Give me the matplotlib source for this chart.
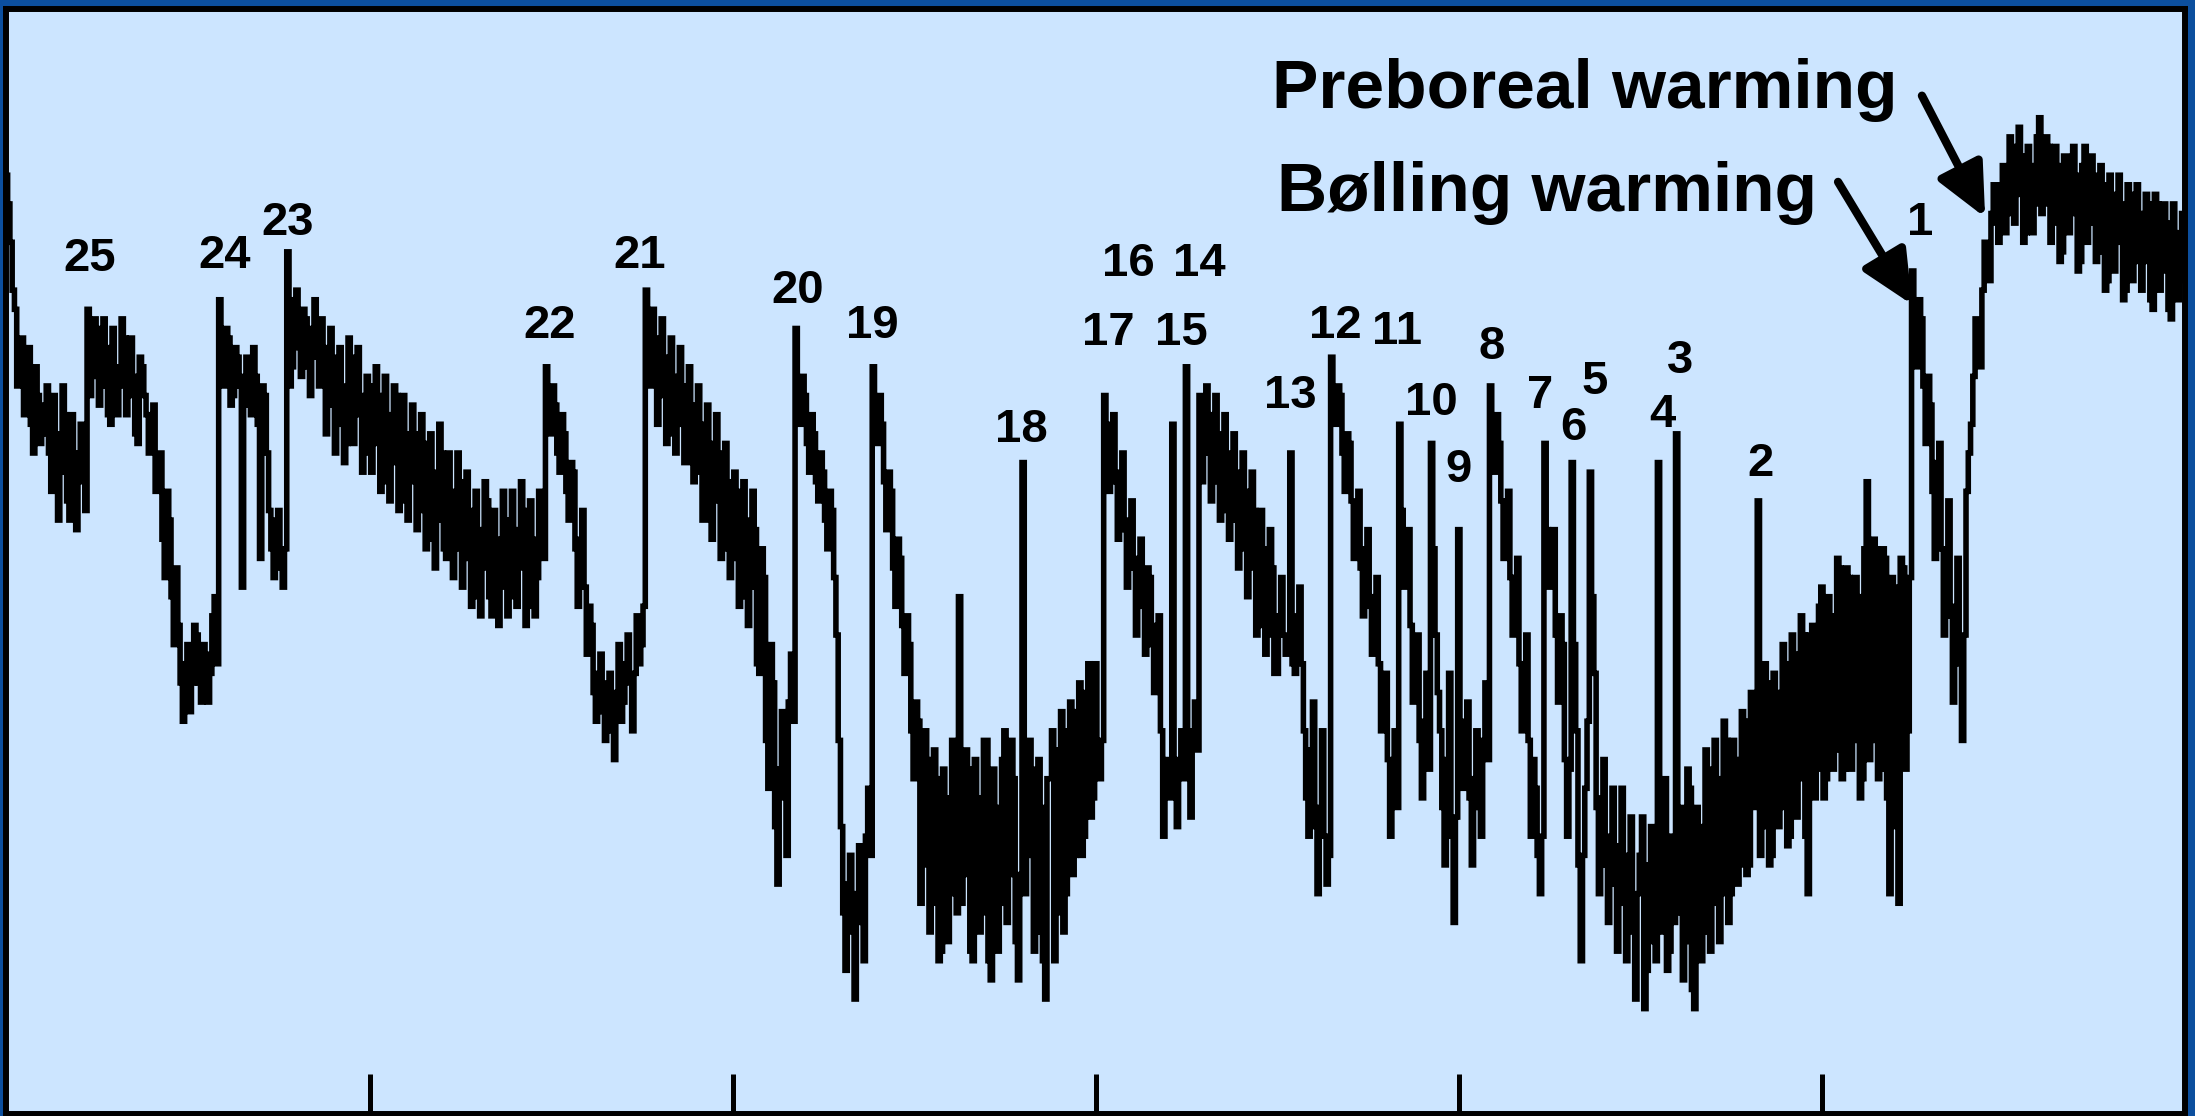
import numpy as np
import matplotlib.pyplot as plt

plt.rcParams['path.simplify'] = False

# Greenland ice-core oxygen isotope record (d18O, permil), one value every 125 years
STEP_KA = 0.125

# 120.0 - 90.125 ka
d18o_120_90 = [
    -34.7, -35.0, -35.4, -35.9, -36.1, -36.9, -36.6, -36.4, -37.2, -36.8, -36.5, -37.3, -37.6, -36.7, -37.0, -37.5, -37.4, -37.1, -36.9, -37.6,
    -38.0, -37.0, -37.4, -38.3, -37.8, -36.9, -37.2, -38.1, -38.3, -37.2, -37.6, -38.4, -37.9, -37.3, -37.5, -38.2, -36.1, -37.0, -36.8, -36.2,
    -36.3, -37.1, -36.9, -36.2, -36.5, -37.2, -37.3, -36.3, -36.7, -37.2, -36.9, -36.2, -36.4, -37.2, -37.0, -36.4, -36.8, -37.4, -37.5, -36.6,
    -36.7, -37.0, -37.2, -37.6, -37.4, -37.1, -38.0, -37.8, -37.6, -38.5, -38.9, -38.0, -38.3, -39.1, -39.6, -38.8, -39.4, -40.0, -40.4, -39.8,
    -39.6, -40.3, -40.0, -39.4, -39.5, -40.0, -40.2, -39.6, -39.7, -40.2, -39.9, -39.3, -39.1, -39.8, -36.0, -36.7, -36.9, -36.3, -36.4, -37.1,
    -37.0, -36.5, -36.6, -36.9, -39.0, -36.8, -36.6, -37.1, -37.2, -36.5, -36.8, -37.3, -38.7, -36.9, -37.0, -37.6, -38.2, -38.6, -38.9, -38.3,
    -38.2, -38.8, -39.0, -38.6, -35.5, -36.9, -36.7, -36.0, -35.9, -36.5, -36.8, -36.1, -36.2, -36.7, -37.0, -36.3, -36.0, -36.6, -36.9, -36.2,
    -36.5, -37.4, -37.1, -36.3, -36.6, -37.6, -37.3, -36.5, -36.9, -37.7, -37.5, -36.4, -36.6, -37.5, -37.2, -36.5, -37.0, -37.8, -37.6, -36.8,
    -36.9, -37.8, -37.5, -36.7, -37.0, -38.0, -37.9, -36.8, -37.2, -38.1, -37.7, -36.9, -37.0, -38.2, -38.1, -37.0, -37.4, -38.3, -37.9, -37.1,
    -37.4, -38.4, -38.2, -37.2, -37.5, -38.6, -38.5, -37.4, -37.8, -38.8, -38.3, -37.3, -37.6, -38.6, -38.7, -37.6, -38.0, -38.9, -38.6, -37.6,
    -37.9, -39.0, -38.7, -37.8, -38.2, -39.2, -39.1, -38.0, -38.4, -39.3, -38.8, -37.9, -38.1, -39.1, -39.3, -38.2, -38.5, -39.4, -39.0, -38.0,
    -38.3, -39.3, -39.1, -38.0, -38.4, -39.2, -38.8, -37.9, -38.2, -39.4, -39.2, -38.1, -38.5, -39.3, -38.9, -38.0, -38.4, -38.7, -36.7, -37.3,
]

# 90.0 - 60.125 ka
d18o_90_60 = [
    -37.4, -36.9, -37.1, -37.6, -37.8, -37.2, -37.4, -38.0, -38.3, -37.7, -37.8, -38.6, -39.2, -38.5, -38.2, -39.0, -39.7, -39.2, -39.4, -40.1,
    -40.4, -39.9, -39.7, -40.3, -40.6, -40.0, -39.9, -40.5, -40.8, -40.1, -39.6, -40.4, -40.2, -39.8, -39.5, -40.0, -40.5, -39.9, -39.3, -39.8,
    -39.6, -39.2, -35.9, -36.9, -36.9, -36.1, -36.4, -37.3, -37.0, -36.2, -36.6, -37.5, -37.4, -36.4, -36.8, -37.6, -37.3, -36.5, -36.9, -37.7,
    -37.7, -36.7, -37.1, -37.9, -37.8, -36.9, -37.3, -38.3, -38.3, -37.1, -37.5, -38.5, -38.1, -37.2, -37.6, -38.7, -38.6, -37.5, -37.9, -38.9,
    -38.7, -37.8, -38.0, -39.2, -39.1, -37.9, -38.3, -39.4, -39.0, -38.0, -38.4, -39.8, -39.9, -38.6, -38.9, -40.6, -41.1, -39.6, -40.0, -41.5,
    -42.1, -40.9, -40.3, -41.2, -41.8, -40.2, -39.7, -40.4, -36.3, -37.0, -37.3, -36.8, -37.0, -37.5, -37.8, -37.2, -37.4, -37.9, -38.1, -37.6,
    -37.8, -38.3, -38.6, -38.0, -38.2, -38.9, -39.5, -40.6, -41.5, -42.4, -43.0, -42.1, -41.8, -42.6, -43.3, -42.2, -41.7, -42.5, -42.9, -41.6,
    -41.1, -41.8, -36.7, -37.2, -37.5, -37.0, -37.3, -37.9, -38.4, -37.8, -38.0, -38.8, -39.2, -38.5, -38.7, -39.4, -39.9, -39.3, -39.6, -40.5,
    -41.0, -40.2, -40.4, -42.3, -41.9, -40.5, -40.8, -42.6, -42.3, -40.7, -41.0, -42.9, -42.8, -40.9, -41.2, -42.7, -42.2, -40.6, -40.7, -42.4,
    -39.1, -42.3, -42.0, -40.7, -40.9, -42.8, -42.9, -40.8, -41.2, -42.6, -42.4, -40.6, -40.6, -42.9, -43.1, -40.9, -41.3, -42.8, -42.3, -40.8,
    -40.5, -42.5, -42.0, -40.6, -41.0, -42.7, -43.1, -42.0, -37.7, -42.2, -41.8, -40.6, -40.9, -42.8, -42.6, -40.8, -41.3, -42.9, -43.3, -41.0,
    -41.0, -40.5, -42.9, -42.4, -40.7, -40.3, -42.6, -42.2, -40.5, -40.2, -42.0, -41.8, -40.3, -40.0, -41.8, -41.6, -40.1, -39.8, -41.4, -41.2,
]

# 60.0 - 30.125 ka
d18o_60_30 = [
    -39.8, -40.8, -41.0, -40.6, -37.0, -37.6, -38.0, -37.3, -37.2, -37.9, -38.5, -37.8, -37.6, -38.4, -39.0, -38.3, -38.1, -38.8, -39.5, -38.7,
    -38.5, -39.2, -39.7, -38.8, -38.9, -39.6, -40.1, -39.4, -39.3, -40.5, -41.6, -40.9, -40.8, -41.2, -37.3, -40.9, -41.5, -40.8, -40.5, -41.0,
    -36.7, -40.6, -41.4, -40.5, -40.2, -40.7, -37.0, -37.9, -37.6, -36.9, -37.2, -38.1, -37.9, -37.0, -37.4, -38.3, -38.2, -37.2, -37.6, -38.5,
    -38.3, -37.4, -37.8, -38.8, -38.6, -37.6, -38.0, -39.1, -38.8, -37.8, -38.2, -39.5, -39.4, -38.2, -38.6, -39.7, -39.5, -38.4, -38.8, -39.9,
    -39.9, -39.3, -38.9, -39.5, -39.7, -39.6, -37.6, -39.8, -39.9, -39.3, -39.0, -39.8, -40.5, -41.2, -41.6, -40.7, -40.2, -41.5, -42.2, -41.3,
    -40.5, -41.6, -42.1, -41.8, -36.6, -37.1, -37.3, -36.9, -37.0, -37.6, -38.0, -37.4, -37.5, -38.1, -38.7, -38.2, -38.0, -38.8, -39.3, -38.6,
    -38.4, -39.2, -39.7, -39.1, -38.9, -39.8, -40.5, -40.1, -39.9, -40.8, -41.6, -40.9, -40.5, -41.3, -37.3, -38.2, -39.0, -38.6, -38.4, -39.4,
    -40.2, -39.7, -39.5, -40.6, -41.2, -40.4, -39.9, -40.9, -37.5, -38.6, -39.5, -40.1, -40.5, -41.3, -41.9, -40.8, -39.9, -41.6, -42.5, -41.4,
    -38.4, -40.7, -41.1, -40.4, -40.2, -41.2, -41.9, -41.0, -40.5, -41.3, -41.6, -40.6, -40.0, -40.8, -36.9, -37.5, -37.8, -37.2, -37.5, -38.1,
    -38.7, -38.3, -38.0, -38.9, -39.5, -38.9, -38.7, -39.8, -40.5, -39.8, -39.5, -40.6, -41.6, -40.8, -41.1, -41.8, -42.2, -41.6, -37.5, -38.4,
    -39.0, -38.8, -38.4, -39.5, -40.2, -39.3, -39.6, -40.8, -41.6, -40.9, -37.7, -39.6, -40.5, -41.9, -42.9, -41.8, -41.1, -40.4, -37.8, -39.1,
    -39.9, -41.3, -42.2, -41.2, -40.8, -41.9, -42.5, -41.6, -41.1, -42.1, -42.8, -41.7, -41.1, -42.3, -42.9, -41.8, -41.4, -42.6, -43.3, -42.2,
]

# 30.0 - 0 ka
d18o_30_0 = [
    -41.8, -41.4, -43.4, -43.0, -41.9, -41.5, -42.7, -42.9, -37.7, -42.6, -41.3, -41.0, -43.0, -42.8, -41.6, -42.5, -37.4, -42.4, -41.3, -43.1,
    -42.7, -40.9, -41.1, -43.2, -43.4, -41.3, -41.5, -42.9, -42.6, -40.7, -40.9, -42.8, -42.3, -40.6, -41.0, -42.7, -42.2, -40.4, -40.6, -42.5,
    -42.2, -40.6, -40.8, -42.1, -41.9, -40.3, -40.4, -42.0, -41.9, -40.1, -40.2, -41.3, -38.1, -41.8, -41.5, -39.8, -40.0, -41.9, -41.8, -39.9,
    -40.1, -41.5, -41.3, -39.6, -39.8, -41.7, -41.6, -39.5, -39.7, -41.4, -41.0, -39.3, -39.5, -41.6, -42.2, -39.5, -39.4, -41.2, -40.9, -39.2,
    -39.0, -41.2, -41.0, -39.1, -39.3, -40.9, -40.7, -38.7, -38.8, -41.0, -40.9, -38.8, -38.9, -40.9, -40.6, -38.9, -39.1, -41.2, -41.0, -38.6,
    -37.9, -40.8, -40.6, -38.5, -38.6, -41.0, -40.9, -38.6, -38.7, -41.2, -42.2, -38.9, -39.0, -41.5, -42.3, -38.7, -38.8, -40.9, -40.5, -38.9,
    -35.7, -36.3, -36.7, -36.0, -36.2, -36.9, -37.5, -36.8, -37.1, -38.0, -38.7, -37.7, -37.5, -38.6, -39.5, -38.6, -38.1, -39.3, -40.2, -39.2,
    -38.7, -39.8, -40.6, -39.5, -38.0, -37.6, -37.3, -36.8, -36.2, -36.4, -36.7, -35.9, -35.4, -35.6, -35.8, -35.1, -34.8, -35.2, -35.4, -34.8,
    -34.6, -35.3, -35.1, -34.3, -34.4, -35.2, -34.9, -34.2, -34.5, -35.4, -35.3, -34.4, -34.6, -35.3, -35.0, -34.3, -34.1, -35.1, -35.0, -34.3,
    -34.4, -35.4, -35.2, -34.4, -34.6, -35.6, -35.5, -34.5, -34.5, -35.3, -35.1, -34.4, -34.7, -35.7, -35.6, -34.6, -34.4, -35.4, -35.2, -34.5,
    -34.7, -35.6, -35.5, -34.6, -34.8, -35.9, -35.8, -34.7, -34.9, -35.7, -35.4, -34.7, -35.0, -36.0, -35.9, -34.8, -34.9, -35.8, -35.6, -34.8,
    -35.1, -35.9, -35.6, -34.9, -35.0, -36.0, -36.1, -34.9, -35.0, -35.9, -35.7, -35.0, -35.2, -36.1, -36.2, -35.0, -35.3, -36.0, -35.8, -35.1,
    -35.4,
]

# Dansgaard-Oeschger interstadial numbers
do_events = ['25', '24', '23', '22', '21', '20', '19', '18', '17', '16', '15',
             '14', '13', '12', '11', '10', '9', '8', '7', '6', '5', '4', '3',
             '2', '1']
do_label_age = [115.4, 108.0, 104.5, 90.1, 85.1, 76.4, 72.3, 64.1, 59.3, 58.2,
                55.3, 54.3, 49.3, 46.8, 43.4, 41.5, 40.0, 38.2, 35.5, 33.7,
                32.5, 28.8, 27.8, 23.4, 14.6]
do_label_level = [-35.70, -35.67, -35.32, -36.40, -35.67, -36.03, -36.40,
                  -37.48, -36.47, -35.75, -36.47, -35.75, -37.13, -36.40,
                  -36.46, -37.20, -37.90, -36.62, -37.13, -37.46, -36.98,
                  -37.33, -36.76, -37.84, -35.32]

d18o = np.array(d18o_120_90 + d18o_90_60 + d18o_60_30 + d18o_30_0)
age_ka = 120.0 - STEP_KA * np.arange(len(d18o))

fig = plt.figure(figsize=(21.95, 11.16), dpi=100, facecolor='#0c4f9e')
ax = fig.add_axes([0.00296, 0.0018, 0.99248, 0.9897])
ax.set_facecolor('#cce5ff')

line, = ax.plot(age_ka, d18o, color='black', lw=4.0, drawstyle='steps-mid',
                solid_joinstyle='miter', solid_capstyle='butt')
line.set_snap(False)

ax.set_xlim(120, 0)
ax.set_ylim(-44.5, -32.97)

for s in ax.spines.values():
    s.set_linewidth(4.3)
    s.set_color('black')

ax.set_xticks([100, 80, 60, 40, 20])
ax.set_yticks([])
ax.tick_params(axis='x', direction='in', length=29, width=3.6, color='black',
               labelbottom=False)

font = dict(family='Liberation Sans', weight='bold', color='black')

for lab, a, lv in zip(do_events, do_label_age, do_label_level):
    ax.text(a, lv, lab, ha='center', va='baseline', fontsize=34, **font)

ax.text(33.04, -34.00, 'Preboreal warming', ha='center', va='baseline',
        fontsize=50, **font)
ax.text(35.16, -35.07, 'Bølling warming', ha='center', va='baseline',
        fontsize=50, **font)

arrow = dict(arrowstyle='-|>,head_length=1.6,head_width=0.75', lw=6,
             color='black', mutation_scale=20, shrinkA=0, shrinkB=0)
ax.annotate('', xy=(11.01, -35.14), xytext=(14.49, -33.87), arrowprops=arrow)
ax.annotate('', xy=(15.03, -36.05), xytext=(19.11, -34.77), arrowprops=arrow)

fig.savefig('out.png', dpi=100, facecolor=fig.get_facecolor())
